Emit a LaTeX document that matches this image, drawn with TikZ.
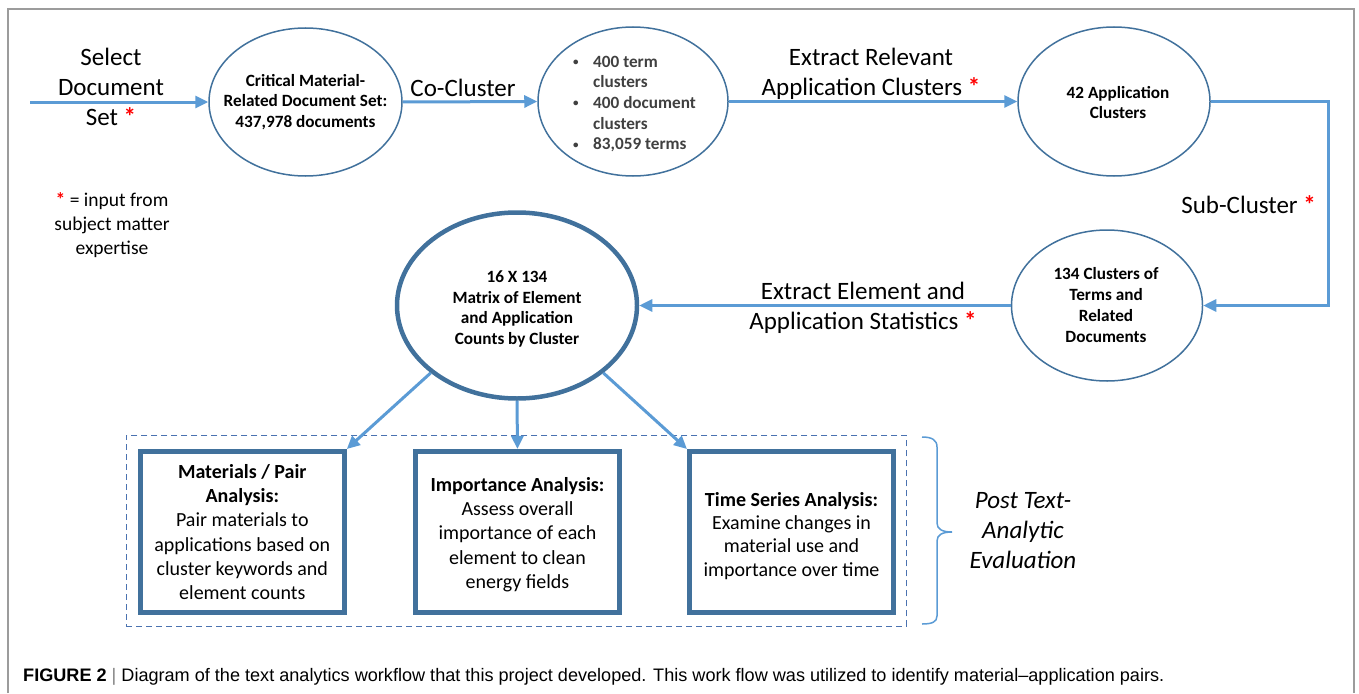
\documentclass[tikz,border=0pt]{standalone}
\usepackage{fontspec}
\setmainfont{Carlito}
\newfontfamily\capfont{Liberation Sans}
\usetikzlibrary{arrows.meta,shapes.geometric,calc}

\definecolor{ringblue}{HTML}{41719C}
\definecolor{arrowblue}{HTML}{5B9BD5}
\definecolor{framegray}{HTML}{9C9C9C}
\definecolor{txtgray}{HTML}{404040}
\definecolor{dashblue}{HTML}{4A72B0}
\definecolor{starred}{HTML}{FF0000}

\newcommand\redstar{\textcolor{starred}{\textbf{*}}}
\newcommand\bul{\makebox[20pt][l]{\raisebox{1.5pt}{\fontsize{11}{11}\selectfont •}}}
\newcommand\ind{\hspace*{20pt}}

\begin{document}
\begin{tikzpicture}[x=1pt,y=-1pt,
  stage/.style={ellipse, draw=ringblue, line width=1.5pt, inner sep=0pt},
  stagetext/.style={align=center, inner sep=0pt, font=\bfseries\fontsize{17.2}{20.7}\selectfont},
  steplabel/.style={align=center, inner sep=0pt, font=\fontsize{25}{30}\selectfont},
  panel/.style={rectangle, draw=ringblue, line width=5pt, minimum width=204pt,
    minimum height=161pt, inner sep=0pt, align=center, font=\fontsize{20}{24.3}\selectfont},
  arr/.style={draw=arrowblue, line width=3pt, -{Triangle[length=13pt,width=12pt]}},
  frameline/.style={draw=framegray, line width=2pt},
  brace/.style={draw=arrowblue, line width=1.5pt}
]
\useasboundingbox (0,0) rectangle (1359,693);

% outer frame
\draw[frameline] (8,693) -- (8,9) -- (1354,9) -- (1354,693);

% ellipses of the workflow
\node[stage, minimum width=193pt, minimum height=148pt] (e1) at (305.5,102) {};
\node[stage, minimum width=190pt, minimum height=149pt] (e2) at (633,101.5) {};
\node[stage, minimum width=192pt, minimum height=149pt] (e3) at (1114,101.5) {};
\node[stage, minimum width=191pt, minimum height=151pt] (e4) at (1107,305.5) {};
\node[stage, line width=4.5pt, minimum width=240pt, minimum height=186pt] (M) at (517,305.5) {};

% ellipse contents
\node[stagetext] (e1t) at (305.5,102) {Critical Material-\\Related Document Set:\\437,978 documents};
\node[stagetext, text=txtgray, align=left, anchor=west] (e2t) at (573,104)
  {\bul 400 term\\ \ind clusters\\ \bul 400 document\\ \ind clusters\\ \bul 83,059 terms};
\node[stagetext] (e3t) at (1118,102.5) {42 Application\\Clusters};
\node[stagetext] (e4t) at (1106,305) {134 Clusters of\\Terms and\\Related\\Documents};
\node[stagetext] (Mt) at (517,309) {16 X 134\\Matrix of Element\\and Application\\Counts by Cluster};

% step labels
\node[steplabel] (l0) at (111,86.5) {Select\\Document\\Set \redstar};
\node[steplabel, font=\fontsize{19.5}{24}\selectfont] (legend) at (112,225) {\redstar{} = input from\\subject matter\\expertise};
\node[steplabel] (l1) at (463,87.5) {Co-Cluster};
\node[steplabel] (l2) at (871,74) {Extract Relevant\\Application Clusters \redstar};
\node[steplabel, anchor=east] (l3) at (1316,204.5) {Sub-Cluster \redstar};
\node[steplabel] (l4) at (863,308) {Extract Element and\\Application Statistics \redstar};

% workflow connectors
\coordinate (src) at (30,102);
\coordinate (rail) at (1328,0);
\draw[arr] (src) -- (e1.west);
\draw[arr] (e1.east) -- (e2.west);
\draw[arr] (e2.east) -- (e3.west);
\draw[arr] (e3.east) -- (e3.east -| rail) -- (e4.east -| rail) -- (e4.east);
\draw[arr] (e4.west) -- (M.east);

% post-analysis group
\node[draw=dashblue, line width=1.5pt, dash pattern=on 6pt off 4pt, minimum width=780pt,
  minimum height=191pt, inner sep=0pt] (group) at (516.3,530.8) {};
\node[panel] (b1) at (242.3,532) {\textbf{Materials / Pair}\\\textbf{Analysis:}\\Pair materials to\\applications based on\\cluster keywords and\\element counts};
\node[panel] (b2) at (517.5,532) {\rule{0pt}{19pt}\textbf{Importance Analysis:}\\Assess overall\\importance of each\\element to clean\\energy fields};
\node[panel, font=\fontsize{20}{23.2}\selectfont] (b3) at (791.5,532) {\rule{0pt}{22pt}\textbf{Time Series Analysis:}\\Examine changes in\\material use and\\importance over time};

\draw[arr] (M.218.5) -- (b1.north east);
\draw[arr] (M.south) -- (b2.north);
\draw[arr] (M.-38) -- (b3.north west);

% brace and its label
\draw[brace] (922,437) .. controls (932,437) and (937,440) .. (937,447) -- (937,523)
  .. controls (937,529) and (942,532) .. (952,532)
  .. controls (942,532) and (937,535) .. (937,541) -- (937,616)
  .. controls (937,622) and (932,624) .. (922,624);
\node[steplabel, font=\itshape\fontsize{25}{30}\selectfont] (post) at (1023,531) {Post Text-\\Analytic\\Evaluation};

% caption
\node[anchor=west, inner sep=0pt, font=\capfont\fontsize{18.1}{21}\selectfont] (cap) at (23,677)
  {\textbf{FIGURE 2} {\color{gray}|} Diagram of the text analytics workflow that this project developed. This work flow was utilized to identify material–application pairs.};
\end{tikzpicture}
\end{document}
